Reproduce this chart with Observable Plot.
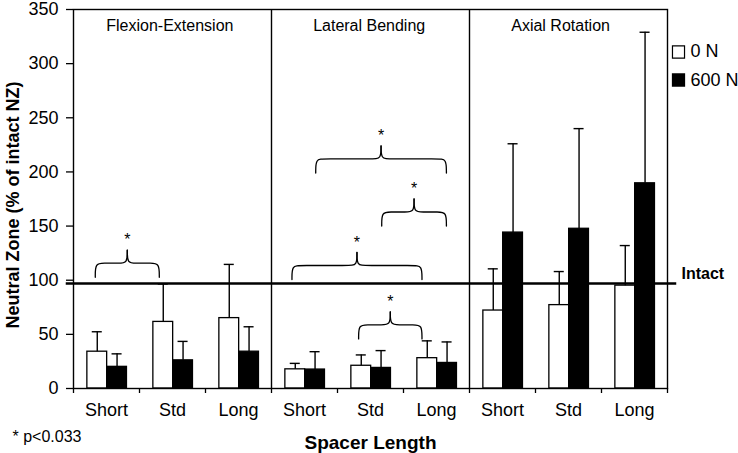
<!DOCTYPE html>
<html>
<head>
<meta charset="utf-8">
<script src="https://cdn.jsdelivr.net/npm/d3@7"></script>
<script src="https://cdn.jsdelivr.net/npm/@observablehq/plot@0.6"></script>
<style>
  html, body { margin: 0; padding: 0; background: white; }
</style>
</head>
<body>
<div id="chart"></div>
<script>
// ---- Data ----
const panels = ["Flexion-Extension", "Lateral Bending", "Axial Rotation"];
const spacers = ["Short", "Std", "Long"];
const seriesNames = ["0 N", "600 N"];
// means (% of intact NZ), order: FE Short/Std/Long, LB Short/Std/Long, AR Short/Std/Long
const mean0N   = [34, 61.5, 65, 17.7, 21, 28, 72, 77, 95];
const sd0N     = [18.4, 35, 49.6, 5.5, 10, 16, 38.5, 31, 37];
const mean600N = [20, 26, 34, 17.5, 19, 23.6, 144, 147.5, 189.5];
const sd600N   = [12, 17.5, 23, 16.5, 16, 19.4, 82, 92.5, 139.5];
const intactValue = 97;
const yTicks = [0, 50, 100, 150, 200, 250, 300, 350];
// significance brackets: left/right ends (category units), level of brace
const bracketLeft  = [0.33, 3.67, 4.67, 3.31, 4.32];
const bracketRight = [1.30, 5.65, 5.65, 5.28, 5.28];
const bracketLevel = [115.7, 212, 163, 113.6, 58.8];
const footnote = "* p<0.033";
const xTitle = "Spacer Length";
const yTitle = "Neutral Zone (% of intact NZ)";
const intactLabel = "Intact";

// ---- Build tables ----
const nCat = panels.length * spacers.length;
const rows = [];
for (let i = 0; i < nCat; i++) {
  rows.push({i, series: seriesNames[0], value: mean0N[i], sd: sd0N[i], x1: i + 0.21, x2: i + 0.51});
  rows.push({i, series: seriesNames[1], value: mean600N[i], sd: sd600N[i], x1: i + 0.51, x2: i + 0.81});
}
rows.forEach(d => { d.cx = (d.x1 + d.x2) / 2; d.top = d.value + d.sd; });

const capHalf = 0.076;
const bracePts = [];
bracketLeft.forEach((l, k) => {
  const r = bracketRight[k], yH = bracketLevel[k];
  const m = (l + r) / 2, yE = yH - 13, yP = yH + 12, c = 0.12;
  [[l, m - 0.0001], [r, m + 0.0001]].forEach(([a, b], h) => {
    const s = Math.sign(b - a);
    [[a, yE], [a, yH], [a + s * c, yH], [b - s * c, yH], [b, yH], [b, yP]]
      .forEach(([x, y]) => bracePts.push({id: k + "-" + h, x, y}));
  });
});
const stars = bracketLeft.map((l, k) => ({x: (l + bracketRight[k]) / 2, y: bracketLevel[k] + 25}));

const centers = d3.range(nCat).map(i => i + 0.5);
const panelTitles = panels.map((p, j) => ({text: p, x: [1.46, 4.48, 7.38][j]}));

const font = "'Liberation Sans', Arial, Helvetica, sans-serif";
const fills = ["white", "black"];

const legendMarks = seriesNames.flatMap((s, k) => [
  Plot.dot([s], {frameAnchor: "top-right", dx: 11, dy: 42.5 + k * 28, symbol: "square", r: 6.8,
    fill: fills[k], stroke: "black", strokeWidth: 1.2}),
  Plot.text([s], {frameAnchor: "top-right", dx: 23, dy: 47.7 + k * 28.3, text: d => d,
    textAnchor: "start", lineAnchor: "bottom", fontSize: 18})
]);

const chart = Plot.plot({
  width: 738,
  height: 453,
  marginLeft: 73,
  marginRight: 71,
  marginTop: 9,
  marginBottom: 65,
  style: {fontFamily: font, background: "white", color: "black"},
  x: {type: "linear", domain: [0, nCat], axis: null},
  y: {domain: [0, 350], axis: null},
  marks: [
    Plot.rectY(rows, {x1: "x1", x2: "x2", y1: 0, y2: "value",
      fill: d => fills[seriesNames.indexOf(d.series)], stroke: "black", strokeWidth: 1.3}),
    Plot.ruleX(rows, {x: "cx", y1: "value", y2: "top", stroke: "black", strokeWidth: 1.4}),
    Plot.ruleY(rows, {y: "top", x1: d => d.cx - capHalf, x2: d => d.cx + capHalf, stroke: "black", strokeWidth: 1.4}),
    Plot.frame({stroke: "black", strokeWidth: 1.4}),
    Plot.ruleX([3, 6], {stroke: "black", strokeWidth: 1.4}),
    Plot.ruleY([intactValue], {x1: -0.11, x2: 9.14, stroke: "black", strokeWidth: 2.6}),
    Plot.line(bracePts, {x: "x", y: "y", z: "id", curve: "basis", stroke: "black", strokeWidth: 1.3}),
    Plot.text(stars, {x: "x", y: "y", text: () => "*", fontSize: 16, lineAnchor: "middle", dy: 4}),
    // axes
    Plot.axisY({ticks: yTicks, tickSize: 7, tickPadding: 8, fontSize: 18, label: null, strokeWidth: 1.3}),
    Plot.axisX({ticks: d3.range(nCat + 1), tickSize: 5, tickFormat: () => "", label: null, strokeWidth: 1.3}),
    Plot.axisX({ticks: centers, tickSize: 0, tickPadding: 15, fontSize: 18, label: null,
      tickFormat: d => spacers[Math.floor(d) % spacers.length]}),
    // panel titles
    Plot.text(panelTitles, {x: "x", text: "text", frameAnchor: "top", dy: 21, fontSize: 16, lineAnchor: "bottom"}),
    // intact label
    Plot.text([intactLabel], {y: [intactValue], text: d => d, frameAnchor: "right", dx: 14, dy: -4,
      textAnchor: "start", lineAnchor: "bottom", fontSize: 16, fontWeight: "bold"}),
    // legend
    ...legendMarks,
    // y title
    Plot.text([yTitle], {x: [-0.91], y: [169.5], text: d => d, rotate: -90, fontSize: 18, fontWeight: "bold", lineAnchor: "middle"}),
    // x title
    Plot.text([xTitle], {frameAnchor: "bottom", dy: 60, text: d => d, fontSize: 19, fontWeight: "bold", lineAnchor: "bottom"}),
    // footnote
    Plot.text([footnote], {frameAnchor: "bottom-left", dx: -61, dy: 53, text: d => d, fontSize: 16, textAnchor: "start", lineAnchor: "bottom"})
  ]
});
document.getElementById("chart").appendChild(chart);
</script>
</body>
</html>
